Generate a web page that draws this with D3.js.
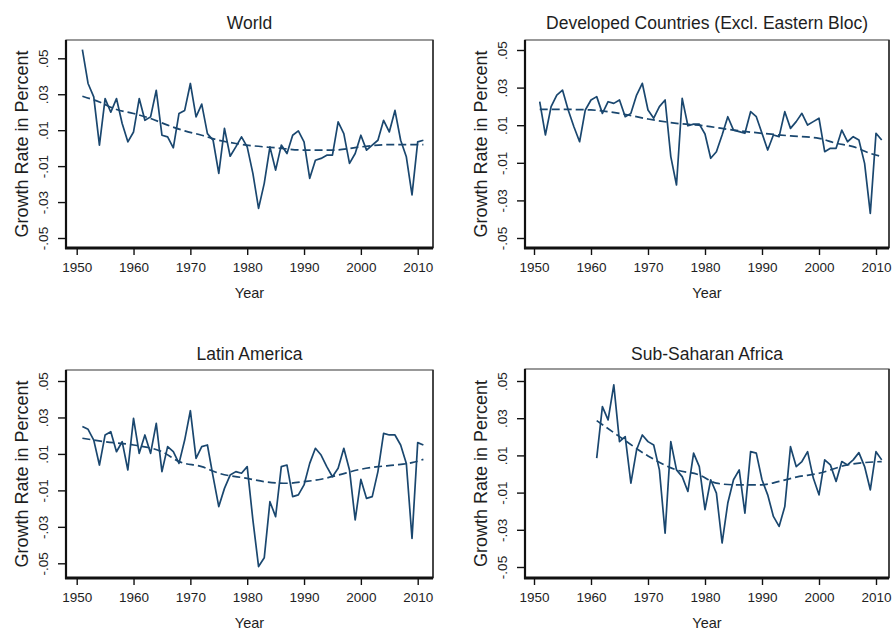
<!DOCTYPE html>
<html><head><meta charset="utf-8">
<script src="https://cdn.jsdelivr.net/npm/d3@7"></script>
<style>
body{margin:0;background:#fff}
text{font-family:"Liberation Sans",Arial,sans-serif;fill:#1e1e1e}
</style>
</head><body>
<svg id="c" width="892" height="633"></svg>
<script>
// ---------- data ----------
const xTicks = [1950, 1960, 1970, 1980, 1990, 2000, 2010];
const yTicks = [0.05, 0.03, 0.01, -0.01, -0.03, -0.05];
const yTickLabels = [".05", ".03", ".01", "-.01", "-.03", "-.05"];
const xTitle = "Year";
const yTitle = "Growth Rate in Percent";
const panelTitles = ["World", "Developed Countries (Excl. Eastern Bloc)", "Latin America", "Sub-Saharan Africa"];
const startYears = [1951, 1951, 1951, 1961];

const world = [0.0548,0.036,0.0285,0.0017,0.0276,0.020,0.0276,0.0137,0.0035,0.009,
  0.0276,0.0155,0.0174,0.0322,0.0072,0.0063,0.0002,0.0193,0.021,0.036,
  0.0174,0.0245,0.0081,0.0044,-0.014,0.011,-0.0045,0.0007,0.0063,0.0007,
  -0.014,-0.0335,-0.0196,0.0007,-0.0122,0.0017,-0.003,0.0072,0.0096,0.0035,
  -0.0168,-0.0067,-0.0057,-0.0039,-0.0039,0.0146,0.0081,-0.0085,-0.003,0.0072,
  -0.0011,0.0017,0.0044,0.0155,0.009,0.021,0.0044,-0.0048,-0.026,0.0035,0.0044];
const developed = [0.0225,0.0048,0.0199,0.026,0.0287,0.0181,0.0092,0.0012,0.0181,0.0234,
  0.0252,0.0163,0.0225,0.0216,0.0234,0.0145,0.0163,0.026,0.0323,0.0181,
  0.0137,0.0199,0.0234,-0.0067,-0.0218,0.0243,0.0097,0.0106,0.0106,0.0053,
  -0.0076,-0.0041,0.0048,0.0145,0.0074,0.0066,0.0057,0.0172,0.0145,0.0057,
  -0.0032,0.0048,0.0039,0.0172,0.0083,0.0119,0.0163,0.0101,0.0119,0.0137,
  -0.0041,-0.0023,-0.0023,0.0074,0.0012,0.0039,0.0021,-0.0103,-0.0369,0.0057,0.0021];
const latinAmerica = [0.025,0.0235,0.0176,0.0039,0.0204,0.0222,0.0112,0.0167,0.0012,0.0295,
  0.0103,0.0204,0.0103,0.0268,0.0003,0.014,0.0112,0.0048,0.0176,0.0337,
  0.0076,0.014,0.0149,-0.0025,-0.0189,-0.0089,-0.0016,0.0003,-0.0006,0.003,
  -0.0262,-0.0518,-0.0470,-0.0162,-0.0244,0.003,0.0039,-0.0134,-0.0125,-0.007,
  0.0048,0.0131,0.0094,0.003,-0.0025,0.0021,0.0131,0.0012,-0.0262,-0.004,
  -0.0144,-0.0134,0.0003,0.0213,0.0204,0.0204,0.0149,0.0048,-0.0363,0.0162,0.0149];
const subSaharan = [0.0085,0.0362,0.0291,0.0479,0.0174,0.0201,-0.0049,0.013,0.021,0.0174,
  0.0156,0.0022,-0.0318,0.0174,0.0022,-0.0014,-0.0094,0.0112,0.004,-0.0192,
  -0.0031,-0.0103,-0.0371,-0.0156,-0.0031,0.0022,-0.021,0.012,0.0112,-0.0031,
  -0.0112,-0.0228,-0.0282,-0.0175,0.0147,0.004,0.0067,0.012,-0.0022,-0.0112,
  0.0076,0.0049,-0.004,0.0067,0.0049,0.0076,0.0115,0.004,-0.0085,0.012,0.0076];

const worldTrend = [[1951,0.0289],[1954,0.0257],[1957,0.0215],[1960,0.0193],[1963,0.0165],[1966,0.0128],[1969,0.0096],[1972,0.0072],[1975,0.0044],[1978,0.0026],[1981,0.0013],[1985,0.0002],[1990,-0.0011],[1995,-0.0011],[2000,0.0007],[2005,0.002],[2011,0.002]];
const developedTrend = [[1951,0.0184],[1955,0.0184],[1960,0.0181],[1965,0.0163],[1970,0.0133],[1975,0.011],[1980,0.0096],[1985,0.0074],[1990,0.0057],[1995,0.0043],[2000,0.003],[2003,0.0004],[2006,-0.0014],[2009,-0.005],[2011,-0.0067]];
const latinTrend = [[1951,0.0186],[1955,0.0167],[1960,0.0149],[1965,0.0112],[1968,0.0058],[1972,0.003],[1975,-0.0006],[1980,-0.0034],[1983,-0.0052],[1987,-0.0061],[1990,-0.0052],[1993,-0.0039],[1996,-0.0016],[2000,0.0016],[2003,0.003],[2006,0.0039],[2009,0.0052],[2011,0.007]];
const subSaharanTrend = [[1961,0.0287],[1965,0.0201],[1970,0.0097],[1975,0.0022],[1979,-0.0005],[1982,-0.0049],[1985,-0.0058],[1990,-0.0058],[1993,-0.004],[1996,-0.0017],[2000,0.0004],[2005,0.0049],[2011,0.0067]];

const seriesList = [world, developed, latinAmerica, subSaharan];
const trendList = [worldTrend, developedTrend, latinTrend, subSaharanTrend];

// ---------- layout ----------
const layouts = [
  {l:66,  r:433, t:40,  b:248, yTop:58.3, yBot:238,   x0:76.7, x1:417.7, titleY:29},
  {l:525, r:889, t:40,  b:248, yTop:50,   yBot:238,   x0:534,  x1:876,   titleY:29},
  {l:66,  r:433, t:370, b:578, yTop:381,  yBot:563.3, x0:76.7, x1:417.7, titleY:360},
  {l:525, r:889, t:369, b:578, yTop:381,  yBot:567,   x0:534,  x1:876,   titleY:360}
];
const lineColor = "#1a476f";
const svg = d3.select("#c");

layouts.forEach((L, i) => {
  const g = svg.append("g");
  const x = d3.scaleLinear().domain([xTicks[0], xTicks[xTicks.length-1]]).range([L.x0, L.x1]);
  const y = d3.scaleLinear().domain([yTicks[yTicks.length-1], yTicks[0]]).range([L.yBot, L.yTop]);

  // frame
  g.append("rect").attr("x", L.l).attr("y", L.t).attr("width", L.r - L.l).attr("height", L.b - L.t)
    .attr("fill", "none").attr("stroke", "#555").attr("stroke-width", 1.2);
  g.append("line").attr("x1", L.r).attr("x2", L.r).attr("y1", L.t).attr("y2", L.b)
    .attr("stroke", "#333").attr("stroke-width", 1.6);

  // y axis
  const ya = g.append("g").attr("transform", `translate(${L.l},0)`)
    .call(d3.axisLeft(y).tickValues(yTicks).tickSize(8).tickSizeOuter(0)
      .tickFormat((d, k) => yTickLabels[k]));
  ya.select(".domain").remove();
  ya.selectAll(".tick line").attr("stroke", "#111").attr("stroke-width", 1.4);
  ya.selectAll(".tick text").attr("transform", "rotate(-90)").attr("x", 0).attr("y", -18.5)
    .attr("dy", 0).attr("text-anchor", "middle").style("font-size", "13.5px")
    .style("font-family", '"Liberation Sans",Arial,sans-serif').attr("fill", "#1e1e1e");

  // x axis
  const xa = g.append("g").attr("transform", `translate(0,${L.b})`)
    .call(d3.axisBottom(x).tickValues(xTicks).tickSize(7).tickPadding(7).tickSizeOuter(0)
      .tickFormat(d3.format("d")));
  xa.select(".domain").remove();
  xa.selectAll(".tick line").attr("stroke", "#111").attr("stroke-width", 1.4);
  xa.selectAll(".tick text").style("font-size", "13.5px")
    .style("font-family", '"Liberation Sans",Arial,sans-serif').attr("fill", "#1e1e1e");

  // thick axis lines
  g.append("line").attr("x1", L.l).attr("x2", L.l).attr("y1", L.t).attr("y2", L.b + 1)
    .attr("stroke", "#111").attr("stroke-width", 2.2);
  g.append("line").attr("x1", L.l - 1).attr("x2", L.r).attr("y1", L.b).attr("y2", L.b)
    .attr("stroke", "#111").attr("stroke-width", 3);

  // titles
  g.append("text").attr("x", (L.l + L.r) / 2).attr("y", L.titleY).attr("text-anchor", "middle")
    .style("font-size", "17.5px").text(panelTitles[i]);
  g.append("text").attr("x", (L.l + L.r) / 2).attr("y", L.b + 50).attr("text-anchor", "middle")
    .style("font-size", "14.5px").text(xTitle);
  g.append("text").attr("transform", `translate(${L.l - 38},${(L.t + L.b) / 2}) rotate(-90)`)
    .attr("text-anchor", "middle").style("font-size", "18px").text(yTitle);

  // data line
  const pts = seriesList[i].map((v, k) => [startYears[i] + k, v]);
  g.append("path").datum(pts)
    .attr("d", d3.line().x(d => x(d[0])).y(d => y(d[1])))
    .attr("fill", "none").attr("stroke", lineColor).attr("stroke-width", 1.7)
    .attr("stroke-linejoin", "round");

  // trend line (dashed)
  g.append("path").datum(trendList[i])
    .attr("d", d3.line().x(d => x(d[0])).y(d => y(d[1])).curve(d3.curveMonotoneX))
    .attr("fill", "none").attr("stroke", lineColor).attr("stroke-width", 1.7)
    .attr("stroke-dasharray", "8,4");
});
</script>
</body></html>
